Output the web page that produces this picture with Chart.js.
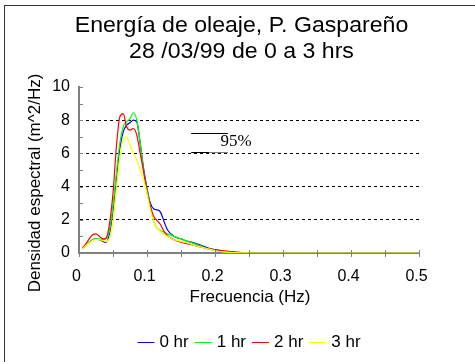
<!DOCTYPE html>
<html>
<head>
<meta charset="utf-8">
<script src="https://cdn.jsdelivr.net/npm/chart.js@4/dist/chart.umd.min.js"></script>
<style>
  html, body { margin: 0; padding: 0; background: #fff; }
  #wrap { position: relative; width: 475px; height: 362px; }
  #frame { position: absolute; left: 4px; top: 5px; width: 475px; height: 362px;
           border-top: 1px solid #333; border-left: 1px solid #333; pointer-events: none; }
</style>
</head>
<body>
<div id="wrap">
  <canvas id="spectrum" width="475" height="362"></canvas>
  <div id="frame"></div>
</div>
<script>
// frequency (Hz) shared by all four spectra
const freqs = [0.005, 0.01, 0.015, 0.02, 0.025, 0.03, 0.035, 0.04, 0.045, 0.05,
    0.055, 0.06, 0.065, 0.07, 0.075, 0.08, 0.085, 0.09, 0.095, 0.1,
    0.105, 0.11, 0.115, 0.12, 0.125, 0.13, 0.14, 0.15, 0.16, 0.17,
    0.18, 0.19, 0.2, 0.21, 0.22, 0.23, 0.24, 0.25, 0.3, 0.35, 0.4, 0.45, 0.5];

// spectral density (m^2/Hz), null = not plotted
const hr0 = [0.25, 0.45, 0.65, 0.8, 0.85, 0.8, 0.7, 0.65, 1.2, 2.6,
    4.5, 6.3, 7.3, 7.7, 7.85, 8.0, 7.9, 6.6, 5.1, 3.9,
    3.0, 2.65, 2.6, 2.45, 1.9, 1.4, 1.0, 0.85, 0.7, 0.6,
    0.45, 0.3, 0.2, 0.12, 0.06, 0.02, null, null, null, null, null, null, null];
const hr1 = [0.25, 0.45, 0.65, 0.8, 0.85, 0.85, 0.8, 0.85, 1.4, 2.8,
    4.8, 6.6, 7.6, 7.9, 8.1, 8.45, 8.0, 6.6, 5.0, 3.8,
    2.8, 1.9, 1.5, 1.35, 1.25, 1.15, 1.0, 0.85, 0.7, 0.55,
    0.4, 0.25, 0.15, 0.08, 0.03, null, null, null, null, null, null, null, null];
const hr2 = [0.3, 0.55, 0.85, 1.1, 1.15, 1.0, 0.85, 0.9, 1.8, 3.6,
    6.4, 8.2, 8.4, 7.6, 7.4, 7.5, 7.1, 6.0, 4.9, 3.7,
    2.8, 2.2, 1.95, 1.7, 1.3, 1.05, 0.8, 0.65, 0.55, 0.45,
    0.35, 0.25, 0.2, 0.15, 0.1, 0.07, 0.03, null, null, null, null, null, null];
const hr3 = [0.25, 0.45, 0.6, 0.75, 0.8, 0.8, 0.75, 0.7, 0.9, 1.8,
    3.8, 5.7, 6.8, 7.0, 6.5, 6.0, 5.6, 5.0, 4.4, 3.6,
    2.6, 1.9, 1.5, 1.3, 1.1, 1.0, 0.8, 0.7, 0.6, 0.45,
    0.35, 0.25, 0.15, 0.08, 0.04, 0.02, 0.01, 0, 0, 0, 0, 0, 0];

const seriesNames = ["0 hr", "1 hr", "2 hr", "3 hr"];
const seriesColors = ["#0000ff", "#00ff00", "#ff0000", "#ffff00"];

const titleLines = ["Energía de oleaje, P. Gaspareño", "28 /03/99 de 0 a 3 hrs"];
const xTitle = "Frecuencia (Hz)";
const yTitle = "Densidad espectral (m^2/Hz)";

// 95% confidence marker (two bars + label), in data units
const ciFreq = [0.165, 0.219];
const ciUpper = 7.23;
const ciLower = 6.06;
const ciLabel = "95%";
const ciLabelAt = [0.208, 6.7];

const SANS = "'Liberation Sans', Arial, sans-serif";

function toPoints(vals) {
    const pts = [];
    vals.forEach((v, i) => { if (v !== null) pts.push({ x: freqs[i], y: v }); });
    return pts;
}

const decorations = {
    id: "decorations",
    afterDraw(chart) {
        const ctx = chart.ctx;
        const xs = chart.scales.x, ys = chart.scales.y;
        const area = chart.chartArea;
        ctx.save();

        // tick marks: y inside, x crossing
        ctx.strokeStyle = "#808080";
        ctx.lineWidth = 1;
        ys.ticks.forEach(t => {
            const y = Math.round(ys.getPixelForValue(t.value)) + 0.5;
            ctx.beginPath(); ctx.moveTo(area.left, y); ctx.lineTo(area.left + 4, y); ctx.stroke();
        });
        xs.ticks.forEach(t => {
            const x = Math.round(xs.getPixelForValue(t.value)) + 0.5;
            ctx.beginPath(); ctx.moveTo(x, area.bottom - 3); ctx.lineTo(x, area.bottom + 4); ctx.stroke();
        });

        // 95% marker
        const x1 = xs.getPixelForValue(ciFreq[0]), x2 = xs.getPixelForValue(ciFreq[1]);
        ctx.strokeStyle = "#000";
        ctx.beginPath();
        ctx.moveTo(x1, Math.round(ys.getPixelForValue(ciUpper)) + 0.5);
        ctx.lineTo(x2, Math.round(ys.getPixelForValue(ciUpper)) + 0.5);
        ctx.stroke();
        const yl = Math.round(ys.getPixelForValue(ciLower)) + 0.5;
        const xm = xs.getPixelForValue((ciFreq[0] + ciFreq[1]) / 2);
        ctx.beginPath(); ctx.moveTo(x1, yl); ctx.lineTo(xm, yl); ctx.stroke();
        ctx.strokeStyle = "#808080";
        ctx.beginPath(); ctx.moveTo(xm, yl); ctx.lineTo(x2, yl); ctx.stroke();
        ctx.fillStyle = "#000";
        ctx.font = "17px 'Liberation Serif', 'Times New Roman', serif";
        ctx.textAlign = "left";
        ctx.textBaseline = "middle";
        ctx.fillText(ciLabel, xs.getPixelForValue(ciLabelAt[0]), ys.getPixelForValue(ciLabelAt[1]));

        // title (slightly wide, like the original)
        ctx.font = "22px " + SANS;
        ctx.textAlign = "center";
        ctx.textBaseline = "alphabetic";
        ctx.save();
        ctx.translate(241.5, 0);
        ctx.scale(1.05, 1);
        ctx.fillText(titleLines[0], 0, 32);
        ctx.fillText(titleLines[1], 0, 57.5);
        ctx.restore();

        // axis titles
        ctx.font = "17px " + SANS;
        ctx.textBaseline = "middle";
        ctx.fillText(xTitle, 250, 297);
        ctx.save();
        ctx.translate(35, 183);
        ctx.rotate(-Math.PI / 2);
        ctx.fillText(yTitle, 0, 0);
        ctx.restore();

        // legend
        ctx.font = "17px " + SANS;
        ctx.textAlign = "left";
        const lineW = 17, gapA = 5, gapB = 6;
        const widths = seriesNames.map(n => ctx.measureText(n).width);
        const total = widths.reduce((a, w) => a + lineW + gapA + w, 0) + gapB * (seriesNames.length - 1);
        let lx = 249 - total / 2;
        const ly = 342;
        seriesNames.forEach((n, i) => {
            ctx.strokeStyle = seriesColors[i];
            ctx.beginPath(); ctx.moveTo(lx, ly + 0.5); ctx.lineTo(lx + lineW, ly + 0.5); ctx.stroke();
            lx += lineW + gapA;
            ctx.fillText(n, lx, ly);
            lx += widths[i] + gapB;
        });
        ctx.restore();
    }
};

const series = [hr0, hr1, hr2, hr3];

new Chart(document.getElementById("spectrum"), {
    type: "scatter",
    data: {
        datasets: series.map((vals, i) => ({
            label: seriesNames[i],
            data: toPoints(vals),
            showLine: true,
            borderColor: seriesColors[i],
            borderWidth: 1.2,
            pointRadius: 0,
            fill: false,
            cubicInterpolationMode: "monotone",
            order: series.length - i
        }))
    },
    options: {
        responsive: false,
        animation: false,
        events: [],
        layout: { padding: { top: 87, right: 56, bottom: 0, left: 0 } },
        plugins: { legend: { display: false }, title: { display: false }, tooltip: { enabled: false } },
        scales: {
            x: {
                type: "linear", min: 0, max: 0.5,
                afterFit: s => { s.height = 109; },
                ticks: {
                    stepSize: 0.05, autoSkip: false, maxRotation: 0, padding: 14, labelOffset: -2.5,
                    color: "#000", font: { family: SANS, size: 16 },
                    callback: v => (Math.round(v * 100) % 10 === 0) ? (v === 0 ? "0" : v.toFixed(1)) : ""
                },
                grid: { drawOnChartArea: false, drawTicks: false },
                border: { color: "#808080", width: 2 }
            },
            y: {
                min: 0, max: 10,
                afterFit: s => { s.width = 79; },
                ticks: {
                    stepSize: 1, autoSkip: false, padding: 9,
                    color: "#000", font: { family: SANS, size: 16 },
                    callback: v => (v % 2 === 0) ? String(v) : ""
                },
                grid: {
                    drawTicks: false,
                    color: c => (c.tick && c.tick.value % 2 === 0 && c.tick.value > 0 && c.tick.value < 10) ? "#000" : "rgba(0,0,0,0)",
                    lineWidth: 1
                },
                border: { color: "#808080", width: 2, dash: [3, 3] }
            }
        }
    },
    plugins: [decorations]
});
</script>
</body>
</html>
